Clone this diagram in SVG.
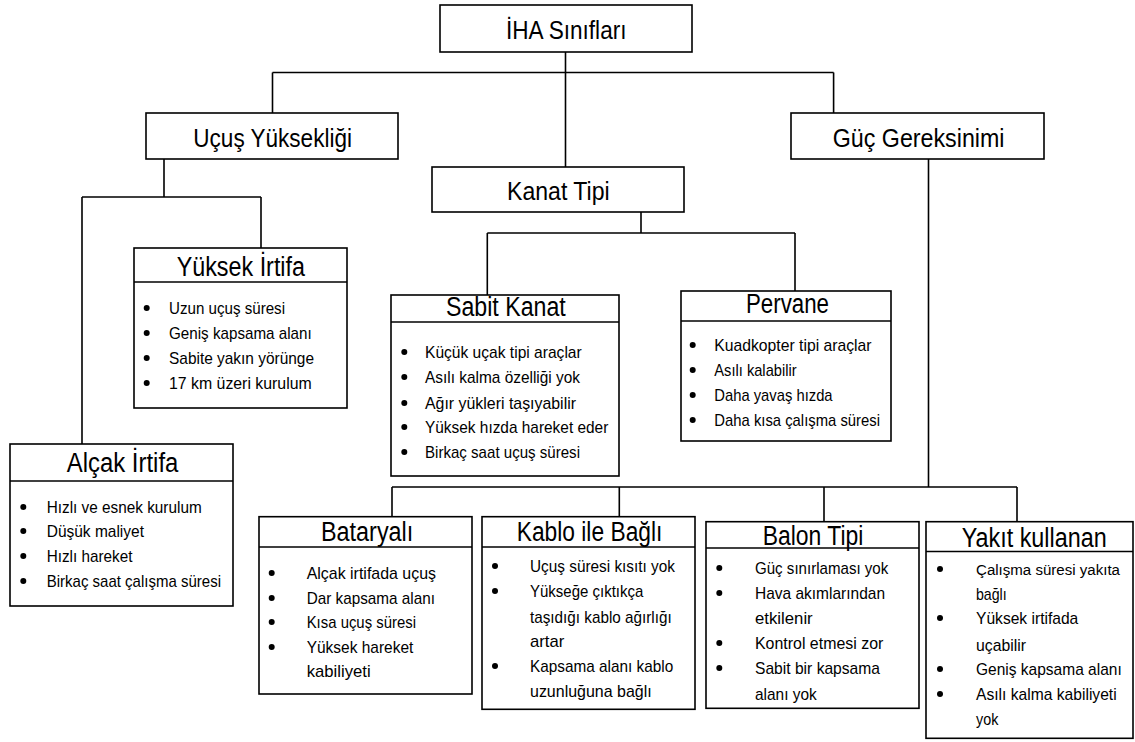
<svg xmlns="http://www.w3.org/2000/svg" width="1135" height="742" viewBox="0 0 1135 742">
<style>
.box{fill:#fff;stroke:#000;stroke-width:1.6}
.ln{stroke:#000;stroke-width:1.6;fill:none}
.t{font-family:"Liberation Sans",Arial,sans-serif;fill:#000}
.h1{font-size:26px}
.h2{font-size:27px}
.b{font-size:17px}
.bs{font-size:15.5px}
.dot{fill:#000}
</style>
<rect width="1135" height="742" fill="#fff"/>
<g id="connectors">
<path class="ln" d="M565.5,52 V167 M272.5,72.5 H833.6 M272.5,72.5 V113 M833.6,72.5 V113"/>
<path class="ln" d="M164,159 V197 M82,197 H261 M82,197 V444 M261,197 V248"/>
<path class="ln" d="M641,212 V233 M487.3,233 H795 M487.3,233 V295 M795,233 V291"/>
<path class="ln" d="M928.5,159 V487 M392,487 H1017 M392,487 V516.7 M619.3,487 V516.7 M824,487 V521.7 M1017,487 V521.7"/>
</g>
<g id="n-root">
<rect class="box" x="440" y="5" width="252" height="47"/>
<text class="t h1" x="506" y="39" textLength="120.5" lengthAdjust="spacingAndGlyphs">İHA Sınıfları</text>
</g>
<g id="n-ucus">
<rect class="box" x="146" y="113" width="252" height="46"/>
<text class="t h1" x="193.3" y="146.7" textLength="158.7" lengthAdjust="spacingAndGlyphs">Uçuş Yüksekliği</text>
</g>
<g id="n-kanat">
<rect class="box" x="432" y="167" width="252" height="45"/>
<text class="t h1" x="507" y="200" textLength="102.7" lengthAdjust="spacingAndGlyphs">Kanat Tipi</text>
</g>
<g id="n-guc">
<rect class="box" x="791" y="113" width="253" height="46"/>
<text class="t h1" x="832.8" y="146.7" textLength="171.7" lengthAdjust="spacingAndGlyphs">Güç Gereksinimi</text>
</g>
<g id="n-yuksek">
<rect class="box" x="134" y="248" width="213" height="160"/>
<path class="ln" d="M134,282 H347"/>
<text class="t h2" x="176.7" y="275.7" textLength="128.3" lengthAdjust="spacingAndGlyphs">Yüksek İrtifa</text>
<circle class="dot" cx="146.7" cy="308" r="3"/><text class="t b" x="169" y="314" textLength="116" lengthAdjust="spacingAndGlyphs">Uzun uçuş süresi</text>
<circle class="dot" cx="146.7" cy="333" r="3"/><text class="t b" x="169" y="339" textLength="142.7" lengthAdjust="spacingAndGlyphs">Geniş kapsama alanı</text>
<circle class="dot" cx="146.7" cy="358" r="3"/><text class="t b" x="169" y="364" textLength="145" lengthAdjust="spacingAndGlyphs">Sabite yakın yörünge</text>
<circle class="dot" cx="146.7" cy="383" r="3"/><text class="t b" x="169" y="389" textLength="142.7" lengthAdjust="spacingAndGlyphs">17 km üzeri kurulum</text>
</g>
<g id="n-alcak">
<rect class="box" x="10" y="444" width="223" height="162"/>
<path class="ln" d="M10,481 H233"/>
<text class="t h2" x="66.7" y="472.3" textLength="111.7" lengthAdjust="spacingAndGlyphs">Alçak İrtifa</text>
<circle class="dot" cx="23.3" cy="507" r="3"/><text class="t b" x="46.7" y="513" textLength="155" lengthAdjust="spacingAndGlyphs">Hızlı ve esnek kurulum</text>
<circle class="dot" cx="23.3" cy="531" r="3"/><text class="t b" x="46.7" y="537" textLength="97.3" lengthAdjust="spacingAndGlyphs">Düşük maliyet</text>
<circle class="dot" cx="23.3" cy="556" r="3"/><text class="t b" x="46.7" y="562" textLength="85.7" lengthAdjust="spacingAndGlyphs">Hızlı hareket</text>
<circle class="dot" cx="23.3" cy="581" r="3"/><text class="t b" x="46.7" y="587" textLength="174.3" lengthAdjust="spacingAndGlyphs">Birkaç saat çalışma süresi</text>
</g>
<g id="n-sabit">
<rect class="box" x="391" y="295" width="228" height="181"/>
<path class="ln" d="M391,322 H619"/>
<text class="t h2" x="446" y="316" textLength="119.7" lengthAdjust="spacingAndGlyphs">Sabit Kanat</text>
<circle class="dot" cx="404.3" cy="352" r="3"/><text class="t b" x="425" y="358" textLength="156.7" lengthAdjust="spacingAndGlyphs">Küçük uçak tipi araçlar</text>
<circle class="dot" cx="404.3" cy="377" r="3"/><text class="t b" x="425" y="383" textLength="155" lengthAdjust="spacingAndGlyphs">Asılı kalma özelliği yok</text>
<circle class="dot" cx="404.3" cy="403" r="3"/><text class="t b" x="425" y="409" textLength="151" lengthAdjust="spacingAndGlyphs">Ağır yükleri taşıyabilir</text>
<circle class="dot" cx="404.3" cy="427" r="3"/><text class="t b" x="425" y="433" textLength="183.3" lengthAdjust="spacingAndGlyphs">Yüksek hızda hareket eder</text>
<circle class="dot" cx="404.3" cy="452" r="3"/><text class="t b" x="425" y="458" textLength="155" lengthAdjust="spacingAndGlyphs">Birkaç saat uçuş süresi</text>
</g>
<g id="n-pervane">
<rect class="box" x="681" y="291" width="210" height="150"/>
<path class="ln" d="M681,321 H891"/>
<text class="t h2" x="746" y="312.5" textLength="83" lengthAdjust="spacingAndGlyphs">Pervane</text>
<circle class="dot" cx="692.7" cy="345" r="3"/><text class="t b" x="714.3" y="351" textLength="157.3" lengthAdjust="spacingAndGlyphs">Kuadkopter tipi araçlar</text>
<circle class="dot" cx="692.7" cy="370" r="3"/><text class="t b" x="714.3" y="376" textLength="82.3" lengthAdjust="spacingAndGlyphs">Asılı kalabilir</text>
<circle class="dot" cx="692.7" cy="395" r="3"/><text class="t b" x="714.3" y="401" textLength="118.3" lengthAdjust="spacingAndGlyphs">Daha yavaş hızda</text>
<circle class="dot" cx="692.7" cy="420" r="3"/><text class="t b" x="714.3" y="426" textLength="165.7" lengthAdjust="spacingAndGlyphs">Daha kısa çalışma süresi</text>
</g>
<g id="n-batarya">
<rect class="box" x="259" y="516.7" width="213" height="177.3"/>
<path class="ln" d="M259,547 H472"/>
<text class="t h2" x="321" y="541" textLength="92.3" lengthAdjust="spacingAndGlyphs">Bataryalı</text>
<circle class="dot" cx="271.7" cy="573" r="3"/><text class="t b" x="306.7" y="579" textLength="129.3" lengthAdjust="spacingAndGlyphs">Alçak irtifada uçuş</text>
<circle class="dot" cx="271.7" cy="598" r="3"/><text class="t b" x="306.7" y="604" textLength="128.3" lengthAdjust="spacingAndGlyphs">Dar kapsama alanı</text>
<circle class="dot" cx="271.7" cy="622" r="3"/><text class="t b" x="306.7" y="628" textLength="109.3" lengthAdjust="spacingAndGlyphs">Kısa uçuş süresi</text>
<circle class="dot" cx="271.7" cy="647" r="3"/><text class="t b" x="306.7" y="653" textLength="106.7" lengthAdjust="spacingAndGlyphs">Yüksek hareket</text>
<text class="t b" x="306.7" y="677" textLength="64" lengthAdjust="spacingAndGlyphs">kabiliyeti</text>
</g>
<g id="n-kablo">
<rect class="box" x="482" y="516.7" width="213" height="192.6"/>
<path class="ln" d="M482,547 H695"/>
<text class="t h2" x="516.7" y="541" textLength="145.7" lengthAdjust="spacingAndGlyphs">Kablo ile Bağlı</text>
<circle class="dot" cx="495" cy="566" r="3"/><text class="t b" x="530" y="572" textLength="145" lengthAdjust="spacingAndGlyphs">Uçuş süresi kısıtı yok</text>
<circle class="dot" cx="495" cy="591" r="3"/><text class="t b" x="530" y="597" textLength="113.3" lengthAdjust="spacingAndGlyphs">Yükseğe çıktıkça</text>
<text class="t b" x="530" y="623" textLength="141.7" lengthAdjust="spacingAndGlyphs">taşıdığı kablo ağırlığı</text>
<text class="t b" x="530" y="647" textLength="34.3" lengthAdjust="spacingAndGlyphs">artar</text>
<circle class="dot" cx="495" cy="666" r="3"/><text class="t b" x="530" y="672" textLength="143.3" lengthAdjust="spacingAndGlyphs">Kapsama alanı kablo</text>
<text class="t b" x="530" y="697" textLength="121.7" lengthAdjust="spacingAndGlyphs">uzunluğuna bağlı</text>
</g>
<g id="n-balon">
<rect class="box" x="706" y="521.7" width="213" height="186.6"/>
<path class="ln" d="M706,548 H919"/>
<text class="t h2" x="762.7" y="545" textLength="100.7" lengthAdjust="spacingAndGlyphs">Balon Tipi</text>
<circle class="dot" cx="719.3" cy="568" r="3"/><text class="t b" x="755" y="574" textLength="133.3" lengthAdjust="spacingAndGlyphs">Güç sınırlaması yok</text>
<circle class="dot" cx="719.3" cy="593" r="3"/><text class="t b" x="755" y="599" textLength="130" lengthAdjust="spacingAndGlyphs">Hava akımlarından</text>
<text class="t b" x="755" y="624" textLength="57.7" lengthAdjust="spacingAndGlyphs">etkilenir</text>
<circle class="dot" cx="719.3" cy="643" r="3"/><text class="t b" x="755" y="649" textLength="128.3" lengthAdjust="spacingAndGlyphs">Kontrol etmesi zor</text>
<circle class="dot" cx="719.3" cy="668" r="3"/><text class="t b" x="755" y="674" textLength="125" lengthAdjust="spacingAndGlyphs">Sabit bir kapsama</text>
<text class="t b" x="755" y="700" textLength="61.7" lengthAdjust="spacingAndGlyphs">alanı yok</text>
</g>
<g id="n-yakit">
<rect class="box" x="926" y="521.7" width="207" height="216.6"/>
<path class="ln" d="M926,551.5 H1133"/>
<text class="t h2" x="961.7" y="546.5" textLength="145" lengthAdjust="spacingAndGlyphs">Yakıt kullanan</text>
<circle class="dot" cx="940" cy="569" r="3"/><text class="t bs" x="976" y="575" textLength="144" lengthAdjust="spacingAndGlyphs">Çalışma süresi yakıta</text>
<text class="t b" x="976" y="600" textLength="30.7" lengthAdjust="spacingAndGlyphs">bağlı</text>
<circle class="dot" cx="940" cy="618" r="3"/><text class="t b" x="976" y="624" textLength="102.3" lengthAdjust="spacingAndGlyphs">Yüksek irtifada</text>
<text class="t b" x="976" y="651" textLength="50" lengthAdjust="spacingAndGlyphs">uçabilir</text>
<circle class="dot" cx="940" cy="669" r="3"/><text class="t b" x="976" y="675" textLength="145.7" lengthAdjust="spacingAndGlyphs">Geniş kapsama alanı</text>
<circle class="dot" cx="940" cy="694" r="3"/><text class="t b" x="976" y="700" textLength="140.7" lengthAdjust="spacingAndGlyphs">Asılı kalma kabiliyeti</text>
<text class="t b" x="976" y="725" textLength="22.3" lengthAdjust="spacingAndGlyphs">yok</text>
</g>
</svg>
